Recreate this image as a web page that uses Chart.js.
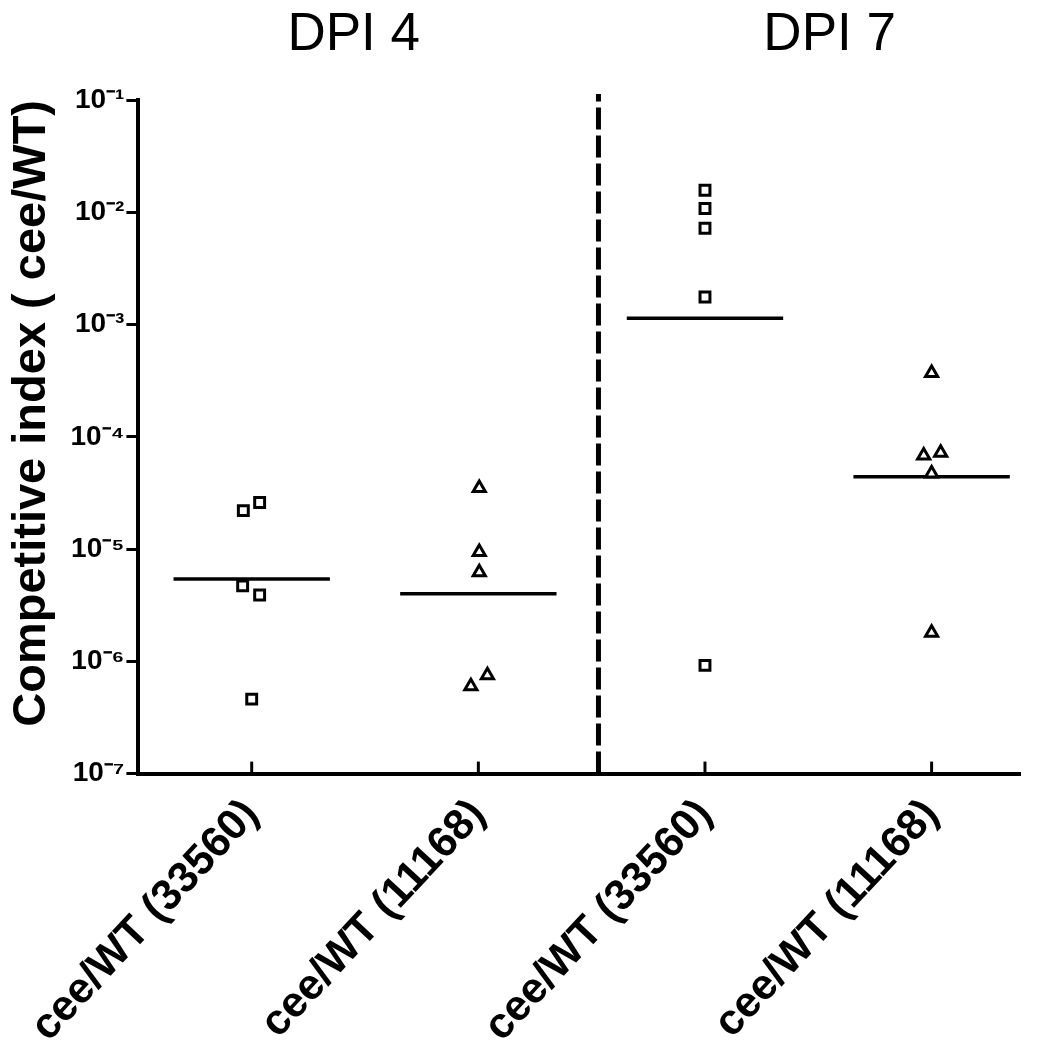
<!DOCTYPE html>
<html>
<head>
  <meta charset="UTF-8">
  <title>Competitive index</title>
  <script src="https://cdn.jsdelivr.net/npm/chart.js"></script>
  <style>
    html, body { margin: 0; padding: 0; background: #fff; }
  </style>
</head>
<body>
    <canvas id="ciChart" width="1050" height="1048"></canvas>
    <script>
        // categories along the x axis (index 0..3)
        var categories = ['cee/WT (33560)', 'cee/WT (11168)', 'cee/WT (33560)', 'cee/WT (11168)'];
        var dayLabels = ['DPI 4', 'DPI 7'];
        var yTickValues = [1e-7, 1e-6, 1e-5, 1e-4, 1e-3, 1e-2, 1e-1];
        var yTickLabels = ['10\u207B\u2077', '10\u207B\u2076', '10\u207B\u2075', '10\u207B\u2074', '10\u207B\u00B3', '10\u207B\u00B2', '10\u207B\u00B9'];

        // competitive index per animal
        var dpi4_33560 = [2.2e-5, 2.6e-5, 4.7e-6, 3.9e-6, 4.6e-7];
        var dpi4_11168 = [3.5e-5, 9.4e-6, 6.2e-6, 7.5e-7, 6.0e-7];
        var dpi7_33560 = [1.57e-2, 1.08e-2, 7.2e-3, 1.76e-3, 9.2e-7];
        var dpi7_11168 = [3.7e-4, 6.8e-5, 7.2e-5, 4.7e-5, 1.8e-6];
        // horizontal spread of overlapping symbols (category units)
        var dpi4_33560_jitter = [-0.037, 0.035, -0.04, 0.035, 0];
        var dpi4_11168_jitter = [0.004, 0.004, 0.004, 0.04, -0.033];
        var dpi7_33560_jitter = [0, 0, 0, 0, 0];
        var dpi7_11168_jitter = [0, -0.035, 0.04, 0, 0];
        // group means (horizontal bars)
        var means = [5.4e-6, 4.0e-6, 1.14e-3, 4.4e-5];

        var dividerX = 1.53;
        var meanHalf = 0.345;
        var FONT = "'Liberation Sans', Arial, sans-serif";

        function pts(vals, jit, idx) {
            return vals.map(function(v, i) { return { x: idx + jit[i], y: v }; });
        }

        var groups = [
            { vals: dpi4_33560, jit: dpi4_33560_jitter, style: 'rect' },
            { vals: dpi4_11168, jit: dpi4_11168_jitter, style: 'triangle' },
            { vals: dpi7_33560, jit: dpi7_33560_jitter, style: 'rect' },
            { vals: dpi7_11168, jit: dpi7_11168_jitter, style: 'triangle' }
        ];

        var datasets = [];
        groups.forEach(function(g, i) {
            datasets.push({
                type: 'scatter',
                data: pts(g.vals, g.jit, i),
                pointStyle: g.style,
                pointRadius: 7,
                pointBorderWidth: 3,
                pointBorderColor: '#000',
                pointBackgroundColor: '#fff'
            });
        });
        means.forEach(function(m, i) {
            datasets.push({
                type: 'line',
                data: [{ x: i - meanHalf, y: m }, { x: i + meanHalf, y: m }],
                borderColor: '#000',
                borderWidth: 3.5,
                pointRadius: 0
            });
        });
        // dashed divider between DPI 4 and DPI 7
        datasets.push({
            type: 'line',
            data: [{ x: dividerX, y: 1e-7 }, { x: dividerX, y: 1.13e-1 }],
            borderColor: '#000',
            borderWidth: 5,
            borderDash: [22, 6],
            pointRadius: 0,
            clip: false
        });

        // titles over each half + inward ticks on the x axis
        var decor = {
            id: 'decor',
            afterDraw: function(chart) {
                var ctx = chart.ctx;
                var xs = chart.scales.x;
                var bottom = chart.chartArea.bottom;
                ctx.save();
                ctx.fillStyle = '#000';
                ctx.font = '53px ' + FONT;
                ctx.textAlign = 'center';
                ctx.textBaseline = 'alphabetic';
                ctx.fillText(dayLabels[0], xs.getPixelForValue(0.45), 50);
                ctx.fillText(dayLabels[1], xs.getPixelForValue(2.55), 50);
                ctx.strokeStyle = '#000';
                ctx.lineWidth = 3;
                categories.forEach(function(c, i) {
                    var px = xs.getPixelForValue(i);
                    ctx.beginPath();
                    ctx.moveTo(px, bottom);
                    ctx.lineTo(px, bottom - 12);
                    ctx.stroke();
                });
                ctx.restore();
            }
        };

        new Chart(document.getElementById('ciChart').getContext('2d'), {
            type: 'scatter',
            data: { datasets: datasets },
            plugins: [decor],
            options: {
                responsive: false,
                animation: false,
                layout: { padding: { top: 100, right: 30, left: 4, bottom: -20 } },
                plugins: { legend: { display: false }, tooltip: { enabled: false } },
                scales: {
                    x: {
                        type: 'linear',
                        min: -0.5,
                        max: 3.39,
                        afterBuildTicks: function(scale) {
                            scale.ticks = categories.map(function(c, i) { return { value: i }; });
                        },
                        ticks: {
                            callback: function(v) { return categories[v]; },
                            minRotation: 47,
                            maxRotation: 47,
                            autoSkip: false,
                            color: '#000',
                            padding: 16,
                            font: { family: FONT, size: 43, weight: 'bold' }
                        },
                        grid: { display: false, drawTicks: false },
                        border: { display: true, color: '#000', width: 4 }
                    },
                    y: {
                        type: 'logarithmic',
                        min: 1e-7,
                        max: 1e-1,
                        afterBuildTicks: function(scale) {
                            scale.ticks = yTickValues.map(function(v) { return { value: v }; });
                        },
                        ticks: {
                            callback: function(v) {
                                var i = yTickValues.findIndex(function(t) { return Math.abs(Math.log10(t) - Math.log10(v)) < 1e-6; });
                                return i >= 0 ? yTickLabels[i] : '';
                            },
                            color: '#000',
                            padding: 2,
                            font: { family: FONT, size: 28, weight: 'bold' }
                        },
                        grid: { drawOnChartArea: false, drawTicks: true, tickLength: 12, color: '#000', lineWidth: 3 },
                        border: { display: true, color: '#000', width: 4 },
                        title: {
                            display: true,
                            text: 'Competitive index ( cee/WT)',
                            align: 'end',
                            color: '#000',
                            padding: { top: 0, bottom: 8 },
                            font: { family: FONT, size: 47, weight: 'bold' }
                        }
                    }
                }
            }
        });
    </script>
</body>
</html>
